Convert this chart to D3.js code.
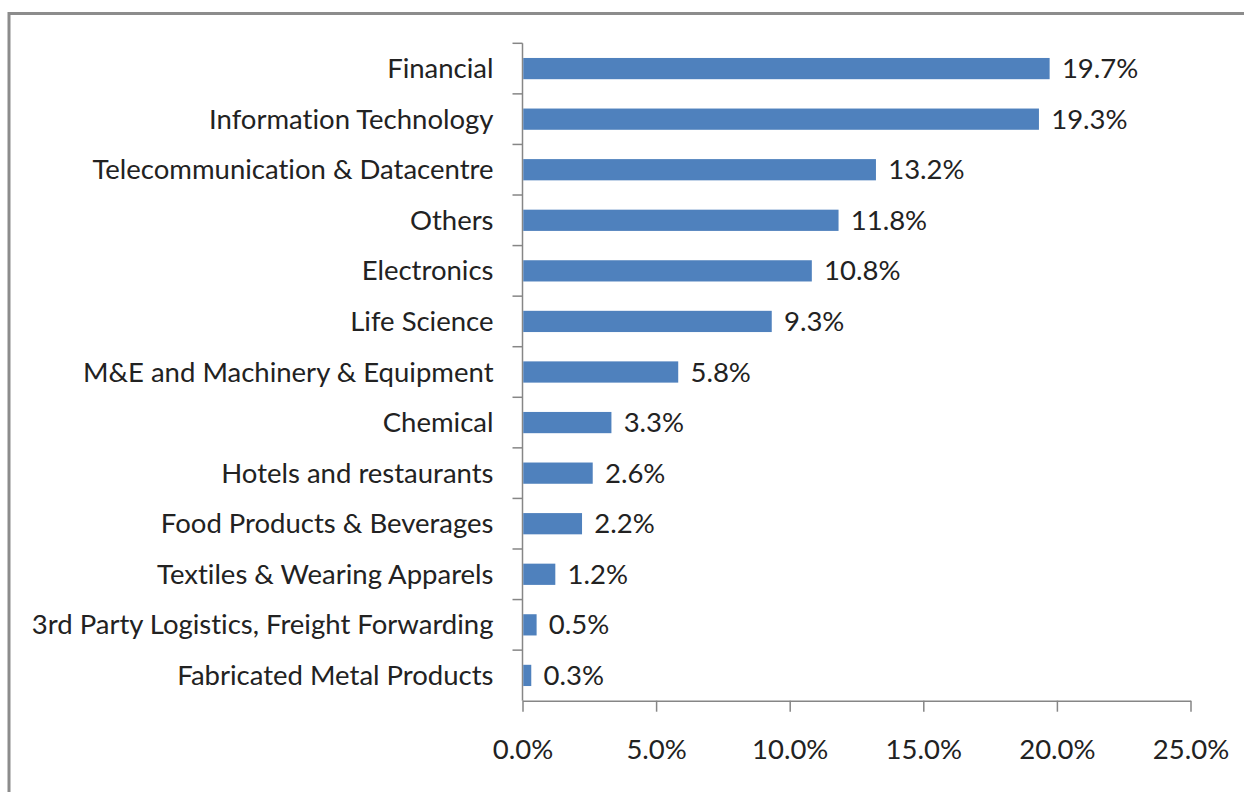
<!DOCTYPE html>
<html>
<head>
<meta charset="utf-8">
<script src="https://cdn.jsdelivr.net/npm/d3@7"></script>
<style>
  body { margin: 0; background: #fff; }
  text { font-family: Lato, "Open Sans", sans-serif; fill: #222; font-variant-ligatures: none; }
</style>
</head>
<body>
<div id="chart"></div>
<script>
const WIDTH = 1244
const HEIGHT = 792
const FONT = "27.5px"

// data
var sectors = [
  "Financial",
  "Information Technology",
  "Telecommunication & Datacentre",
  "Others",
  "Electronics",
  "Life Science",
  "M&E and Machinery & Equipment",
  "Chemical",
  "Hotels and restaurants",
  "Food Products & Beverages",
  "Textiles & Wearing Apparels",
  "3rd Party Logistics, Freight Forwarding",
  "Fabricated Metal Products"
]
var shares = [19.7, 19.3, 13.2, 11.8, 10.8, 9.3, 5.8, 3.3, 2.6, 2.2, 1.2, 0.5, 0.3]
var xTicks = [0, 5, 10, 15, 20, 25]

var plot = {left: 522.5, right: 1190.5, top: 43.3, bottom: 700.7}

var svg = d3.select("#chart")
  .append("svg")
  .attr("width", WIDTH)
  .attr("height", HEIGHT)

// outer frame (runs off the right and bottom edges)
svg.append("path")
  .attr("d", "M9," + (HEIGHT + 20) + " V13.5 H" + (WIDTH + 20))
  .attr("fill", "none")
  .attr("stroke", "#8c8c8c")
  .attr("stroke-width", 3)

var x = d3.scaleLinear()
  .domain([0, 25])
  .range([plot.left, plot.right])

var y = d3.scaleBand()
  .domain(sectors)
  .range([plot.top, plot.bottom])
  .paddingInner(0.58)
  .paddingOuter(0.29)

var step = y.step()

// x axis
var xAxis = svg.append("g")
  .attr("transform", "translate(0," + plot.bottom + ")")
  .call(d3.axisBottom(x)
    .tickValues(xTicks)
    .tickSize(11)
    .tickSizeOuter(0)
    .tickPadding(28)
    .tickFormat(d => d.toFixed(1) + "%"))
xAxis.select(".domain").attr("stroke", "#868686").attr("stroke-width", 1.5)
xAxis.selectAll(".tick line").attr("stroke", "#868686").attr("stroke-width", 1.5)
xAxis.selectAll("text")
  .attr("fill", "#222")
  .style("font-family", "Lato, 'Open Sans', sans-serif")
  .style("font-size", FONT)

// y axis line and ticks between categories
var yAxis = svg.append("g")
yAxis.append("line")
  .attr("x1", plot.left).attr("x2", plot.left)
  .attr("y1", plot.top).attr("y2", plot.bottom)
  .attr("stroke", "#868686")
  .attr("stroke-width", 1.5)
yAxis.selectAll(".ytick")
  .data(sectors)
  .enter()
  .append("line")
  .attr("x1", plot.left - 10).attr("x2", plot.left)
  .attr("y1", d => y(d) - (step - y.bandwidth()) / 2)
  .attr("y2", d => y(d) - (step - y.bandwidth()) / 2)
  .attr("stroke", "#868686")
  .attr("stroke-width", 1.5)

// category labels
svg.selectAll(".label")
  .data(sectors)
  .enter()
  .append("text")
  .attr("x", plot.left - 29)
  .attr("y", d => y(d) + y.bandwidth() / 2)
  .attr("dy", "0.35em")
  .attr("text-anchor", "end")
  .style("font-size", FONT)
  .text(d => d)

// bars
svg.selectAll(".bar")
  .data(shares)
  .enter()
  .append("rect")
  .attr("x", x(0) + 0.75)
  .attr("y", (d, i) => y(sectors[i]))
  .attr("width", d => x(d) - x(0))
  .attr("height", y.bandwidth())
  .style("fill", "#4f81bd")

// value labels
svg.selectAll(".val")
  .data(shares)
  .enter()
  .append("text")
  .attr("x", d => x(d) + 13)
  .attr("y", (d, i) => y(sectors[i]) + y.bandwidth() / 2)
  .attr("dy", "0.35em")
  .style("font-size", FONT)
  .text(d => d.toFixed(1) + "%")
</script>
</body>
</html>
